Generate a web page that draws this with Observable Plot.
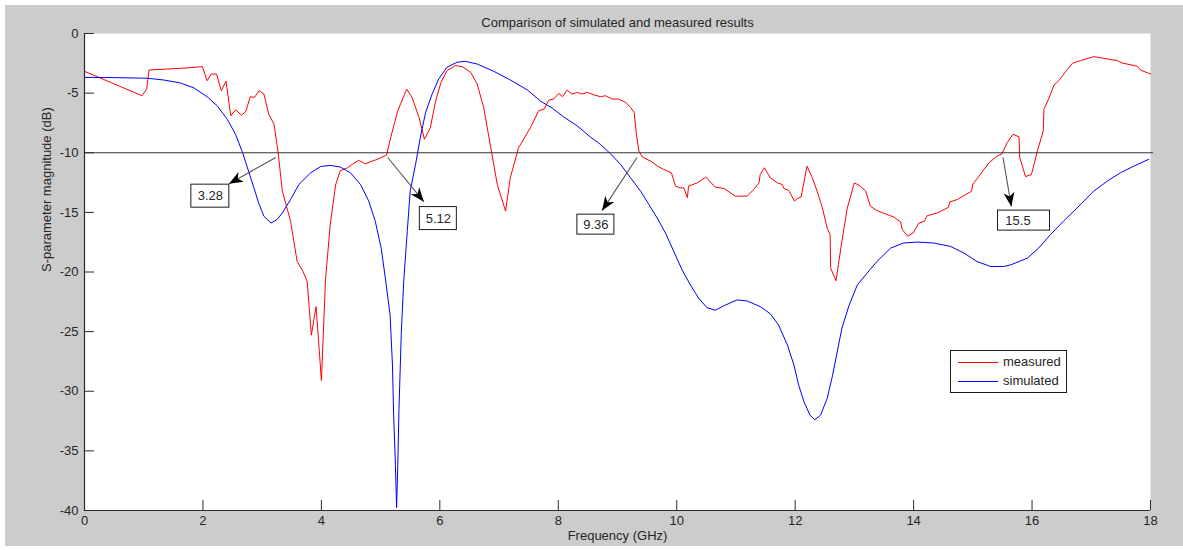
<!DOCTYPE html>
<html>
<head>
<meta charset="utf-8">
<script src="https://cdn.jsdelivr.net/npm/d3@7"></script>
<script src="https://cdn.jsdelivr.net/npm/@observablehq/plot@0.6"></script>
<style>
  html, body { margin: 0; padding: 0; background: #ffffff; }
  #wrap { position: absolute; left: 5px; top: 5px; width: 1178px; height: 541px; background: #cccccc; overflow: hidden; }
  #legend { position: absolute; box-sizing: border-box; background: #ffffff; border: 1px solid #1a1a1a;
            font: 13px "Liberation Sans", Arial, sans-serif; color: #262626; }
  #legend .ln { position: absolute; height: 0; }
  #legend .tx { position: absolute; height: 16px; line-height: 16px; white-space: nowrap; }
</style>
</head>
<body>
<div id="wrap"></div>
<script>
// ---------------- data ----------------
const titleText = "Comparison of simulated and measured results";
const xLabelText = "Frequency (GHz)";
const yLabelText = "S-parameter magnitude (dB)";
const seriesNames = ["measured", "simulated"];

const measuredFreq = [0, 0.97, 1.05, 1.09, 1.73, 1.99, 2.07, 2.14, 2.23, 2.31, 2.39, 2.47, 2.55, 2.65, 2.72, 2.80, 2.87, 2.95, 3.03, 3.11, 3.20, 3.27, 3.34, 3.48, 3.59, 3.69, 3.76, 3.83, 3.91, 3.95, 4.00, 4.07, 4.15, 4.24, 4.32, 4.44, 4.52, 4.63, 4.74, 4.94, 5.10, 5.17, 5.29, 5.44, 5.53, 5.65, 5.74, 5.84, 5.93, 6.02, 6.12, 6.26, 6.38, 6.52, 6.63, 6.74, 6.86, 6.97, 7.11, 7.19, 7.33, 7.53, 7.67, 7.76, 7.84, 7.92, 8.01, 8.07, 8.15, 8.23, 8.32, 8.40, 8.49, 8.60, 8.71, 8.80, 8.91, 9.02, 9.14, 9.22, 9.28, 9.32, 9.36, 9.42, 9.56, 9.67, 9.78, 9.91, 9.98, 10.05, 10.12, 10.18, 10.20, 10.35, 10.49, 10.65, 10.80, 10.99, 11.08, 11.19, 11.30, 11.39, 11.41, 11.48, 11.58, 11.70, 11.78, 11.81, 11.89, 11.99, 12.03, 12.10, 12.20, 12.29, 12.37, 12.46, 12.54, 12.59, 12.60, 12.69, 12.78, 12.88, 13.00, 13.10, 13.19, 13.27, 13.38, 13.53, 13.67, 13.78, 13.81, 13.90, 13.99, 14.09, 14.18, 14.23, 14.40, 14.59, 14.61, 14.74, 14.98, 15.00, 15.13, 15.27, 15.41, 15.49, 15.58, 15.68, 15.78, 15.79, 15.89, 15.99, 16.09, 16.19, 16.20, 16.28, 16.37, 16.45, 16.59, 16.68, 16.82, 17.04, 17.21, 17.44, 17.52, 17.78, 17.83, 18.0];
const measuredDb = [-3.17, -5.22, -4.66, -3.06, -2.89, -2.78, -3.96, -3.40, -3.40, -4.80, -4.00, -6.90, -6.40, -6.85, -6.57, -5.30, -5.36, -4.80, -5.08, -6.76, -7.60, -10.0, -13.2, -15.75, -19.1, -19.96, -20.8, -25.3, -22.9, -25.6, -29.1, -20.6, -16.0, -12.7, -11.5, -11.26, -10.98, -10.64, -10.92, -10.56, -10.2, -8.73, -6.48, -4.66, -5.36, -7.05, -8.87, -7.89, -5.64, -4.1, -3.12, -2.69, -2.78, -3.26, -4.24, -6.2, -9.57, -12.66, -14.9, -12.1, -9.57, -7.89, -6.48, -6.34, -5.59, -5.5, -5.02, -5.3, -4.74, -5.08, -4.94, -5.08, -4.94, -5.14, -5.3, -5.22, -5.5, -5.5, -5.78, -6.2, -6.62, -8.45, -9.85, -10.36, -10.7, -11.1, -11.4, -11.68, -12.8, -12.94, -12.94, -13.78, -12.8, -12.52, -12.04, -12.88, -13.0, -13.64, -13.64, -13.64, -13.08, -12.52, -11.82, -11.26, -12.1, -12.52, -12.66, -13.0, -13.16, -14.06, -13.84, -13.72, -11.12, -12.1, -13.22, -14.63, -16.31, -16.87, -19.68, -20.74, -17.71, -14.63, -12.52, -12.8, -13.22, -14.48, -14.85, -15.13, -15.41, -15.8, -16.45, -17.0, -16.73, -15.89, -15.75, -15.27, -15.05, -14.57, -14.12, -13.92, -13.22, -12.63, -11.8, -10.85, -10.27, -10.1, -9.15, -8.45, -8.67, -10.36, -12.0, -11.82, -9.85, -8.17, -6.34, -5.5, -4.32, -3.96, -3.06, -2.5, -2.27, -1.94, -2.08, -2.27, -2.47, -2.75, -3.06, -3.4];

const simulatedFreq = [0, 0.5, 1.06, 1.34, 1.62, 1.85, 2.07, 2.24, 2.41, 2.55, 2.67, 2.77, 2.86, 2.94, 3.03, 3.15, 3.25, 3.34, 3.48, 3.62, 3.82, 3.99, 4.15, 4.32, 4.49, 4.66, 4.80, 4.91, 5.01, 5.08, 5.16, 5.20, 5.22, 5.25, 5.27, 5.29, 5.31, 5.35, 5.39, 5.45, 5.50, 5.59, 5.67, 5.76, 5.87, 5.98, 6.12, 6.29, 6.43, 6.63, 6.91, 7.19, 7.48, 7.70, 7.90, 8.09, 8.32, 8.54, 8.71, 8.88, 9.05, 9.22, 9.39, 9.53, 9.67, 9.81, 9.95, 10.09, 10.23, 10.37, 10.51, 10.65, 10.80, 11.02, 11.19, 11.41, 11.58, 11.72, 11.87, 11.98, 12.06, 12.15, 12.25, 12.33, 12.43, 12.54, 12.63, 12.71, 12.79, 12.91, 13.05, 13.19, 13.38, 13.61, 13.83, 14.06, 14.34, 14.62, 14.85, 15.07, 15.30, 15.52, 15.64, 15.92, 16.11, 16.31, 16.54, 16.76, 17.04, 17.27, 17.49, 17.72, 17.97];
const simulatedDb = [-3.68, -3.70, -3.75, -3.9, -4.15, -4.57, -5.3, -6.06, -7.19, -8.45, -10.0, -11.54, -12.94, -14.2, -15.33, -15.89, -15.61, -15.05, -13.92, -12.66, -11.68, -11.15, -11.06, -11.2, -11.68, -12.66, -14.06, -15.75, -18.0, -20.52, -23.6, -27.8, -32.0, -36.2, -39.75, -36.2, -31.5, -25.0, -20.8, -16.6, -13.2, -10.98, -8.73, -6.62, -5.08, -3.82, -2.83, -2.41, -2.33, -2.56, -3.17, -3.9, -4.74, -5.67, -6.26, -6.99, -7.75, -8.67, -9.29, -10.08, -10.97, -12.1, -13.22, -14.34, -15.47, -16.73, -18.27, -19.82, -21.08, -22.2, -22.99, -23.21, -22.82, -22.34, -22.43, -22.9, -23.5, -24.45, -26.13, -27.82, -29.5, -30.9, -32.0, -32.4, -32.0, -30.6, -28.7, -26.7, -24.7, -22.8, -21.08, -20.24, -19.12, -18.0, -17.57, -17.49, -17.57, -17.85, -18.41, -19.12, -19.54, -19.54, -19.4, -18.84, -18.0, -16.87, -15.69, -14.63, -13.22, -12.38, -11.68, -11.12, -10.55];

const xDomain = [0, 18];
const yDomain = [-40, 0];
const xTicks = [0, 2, 4, 6, 8, 10, 12, 14, 16, 18];
const yTicks = [0, -5, -10, -15, -20, -25, -30, -35, -40];
const thresholdDb = -10;

// annotations (data units: GHz, dB)
const annLabels   = ["3.28", "5.12", "9.36", "15.5"];
const annTailFreq = [3.23, 5.12, 9.33, 15.51];
const annTailDb   = [-10.4, -10.4, -10.4, -10.4];
const annTipFreq  = [2.44, 5.73, 8.74, 15.65];
const annTipDb    = [-12.6, -14.1, -14.85, -14.5];
const annBoxFreq  = [2.125, 5.975, 8.635, 15.864];
const annBoxDb    = [-13.64, -15.52, -16.03, -15.69];

// ---------------- layout / style ----------------
const W = 1178, H = 541;
const mL = 79, mR = 33, mT = 28, mB = 36;
const FONT = "'Liberation Sans', Arial, Helvetica, sans-serif";
const INK = "#262626";
const AXIS = "#2b2b2b";
const seriesColors = ["#ff0000", "#0000ff"];
const boxW = [38, 37, 37, 52];
const boxH = [23, 23, 20, 20];
const textShift = [0, 0, 0, -6];

const rows = [
  ...measuredFreq.map((f, i) => ({series: seriesNames[0], freq: f, db: measuredDb[i]})),
  ...simulatedFreq.map((f, i) => ({series: seriesNames[1], freq: f, db: simulatedDb[i]}))
];

const sx = Plot.scale({x: {domain: xDomain, range: [mL, W - mR]}});
const sy = Plot.scale({y: {domain: yDomain, range: [H - mB, mT]}});

const ann = annLabels.map((label, i) => {
  const x0 = sx.apply(annTailFreq[i]), y0 = sy.apply(annTailDb[i]);
  const x1 = sx.apply(annTipFreq[i]), y1 = sy.apply(annTipDb[i]);
  const dx = x1 - x0, dy = y1 - y0, len = Math.hypot(dx, dy);
  const cx = sx.apply(annBoxFreq[i]), cy = sy.apply(annBoxDb[i]);
  return {
    label,
    tailF: annTailFreq[i], tailDb: annTailDb[i],
    tipF: annTipFreq[i], tipDb: annTipDb[i],
    angle: Math.atan2(dx / len, -dy / len) * 180 / Math.PI,
    bx1: sx.invert(cx - boxW[i] / 2), bx2: sx.invert(cx + boxW[i] / 2),
    by1: sy.invert(cy + boxH[i] / 2), by2: sy.invert(cy - boxH[i] / 2),
    tx: sx.invert(cx + textShift[i]), ty: annBoxDb[i]
  };
});

const arrowHead = {
  draw(ctx) {
    ctx.moveTo(0, 0);
    ctx.lineTo(5.5, 14);
    ctx.lineTo(0, 10);
    ctx.lineTo(-5.5, 14);
    ctx.closePath();
  }
};

const plot = Plot.plot({
  width: W,
  height: H,
  marginLeft: mL,
  marginRight: mR,
  marginTop: mT,
  marginBottom: mB,
  style: {background: "transparent", fontFamily: FONT, fontSize: "13px", color: INK, overflow: "visible"},
  x: {domain: xDomain, axis: null, label: null},
  y: {domain: yDomain, axis: null, label: null},
  color: {domain: seriesNames, range: seriesColors},
  marks: [
    Plot.frame({fill: "white"}),
    Plot.line(rows, {x: "freq", y: "db", z: "series", stroke: "series", strokeWidth: 1}),
    Plot.ruleY([thresholdDb], {stroke: "#333333", strokeWidth: 1.2, insetRight: -3}),
    // axes
    Plot.ruleX([xDomain[0]], {stroke: AXIS, strokeWidth: 1.2}),
    Plot.ruleY([yDomain[0]], {stroke: AXIS, strokeWidth: 1.2}),
    Plot.axisX(xTicks, {anchor: "bottom", tickSize: 0, tickPadding: 5, tickFormat: d => String(d), label: null, fontSize: 13, fill: INK}),
    Plot.axisX(xTicks, {anchor: "bottom", tickSize: -10, tickFormat: () => "", label: null, stroke: AXIS}),
    Plot.axisY(yTicks, {anchor: "left", tickSize: 0, tickPadding: 6, tickFormat: d => String(d), label: null, fontSize: 13, fill: INK}),
    Plot.axisY(yTicks, {anchor: "left", tickSize: -10, tickFormat: () => "", label: null, stroke: AXIS}),
    // titles
    Plot.text([titleText], {text: d => d, frameAnchor: "top", dy: -16, fontSize: 13, fill: INK}),
    Plot.text([xLabelText], {text: d => d, frameAnchor: "bottom", dy: 29, fontSize: 13, fill: INK}),
    Plot.text([yLabelText], {text: d => d, frameAnchor: "left", dx: -38, rotate: -90, fontSize: 13, fill: INK}),
    // annotations
    Plot.link(ann, {x1: "tailF", y1: "tailDb", x2: "tipF", y2: "tipDb", stroke: "#555555", strokeWidth: 1.1}),
    Plot.dot(ann, {x: "tipF", y: "tipDb", symbol: arrowHead, rotate: "angle", fill: "black", stroke: "none"}),
    Plot.rect(ann, {x1: "bx1", x2: "bx2", y1: "by1", y2: "by2", fill: "white", stroke: "#1a1a1a", strokeWidth: 1}),
    Plot.text(ann, {x: "tx", y: "ty", text: "label", fontSize: 13, fill: INK})
  ]
});

const wrap = document.getElementById("wrap");
wrap.appendChild(plot);

// legend (built from the series names / colors)
const legend = document.createElement("div");
legend.id = "legend";
legend.style.left = "945px";
legend.style.top = "345px";
legend.style.width = "117px";
legend.style.height = "43px";
seriesNames.forEach((name, i) => {
  const yMid = 12 + i * 19;
  const ln = document.createElement("div");
  ln.className = "ln";
  ln.style.left = "7px";
  ln.style.width = "40px";
  ln.style.top = (yMid - 1) + "px";
  ln.style.borderTop = "1px solid " + seriesColors[i];
  legend.appendChild(ln);
  const tx = document.createElement("div");
  tx.className = "tx";
  tx.style.left = "52px";
  tx.style.top = (yMid - 9) + "px";
  tx.textContent = name;
  legend.appendChild(tx);
});
wrap.appendChild(legend);
</script>
</body>
</html>
